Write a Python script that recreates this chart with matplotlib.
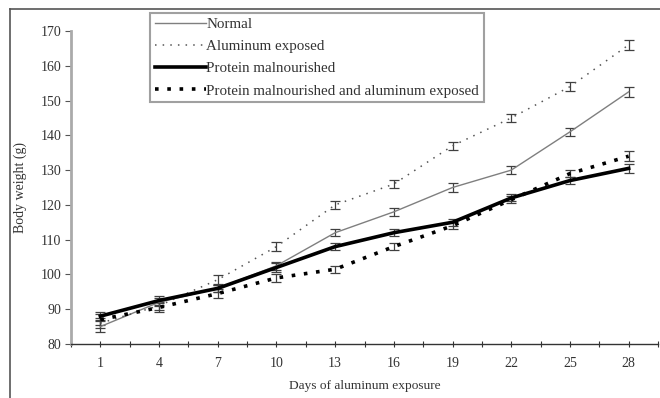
import matplotlib
matplotlib.use("Agg")
import matplotlib.pyplot as plt
from matplotlib.lines import Line2D
import numpy as np

days = [1, 4, 7, 10, 13, 16, 19, 22, 25, 28]
normal = [85, 92, 96, 102.5, 112, 118, 125, 130, 141, 152.5]
normal_err = [1.5, 1.2, 1.0, 1.2, 1.0, 1.2, 1.2, 1.2, 1.2, 1.5]
alum = [86, 91, 98.5, 108, 120, 126, 137, 145, 154, 166]
alum_err = [1.5, 1.2, 1.2, 1.2, 1.2, 1.2, 1.2, 1.2, 1.2, 1.5]
pm = [88, 92.5, 96, 102, 108, 112, 115, 122, 127, 130.5]
pm_err = [1.2, 1.2, 1.0, 1.2, 1.0, 1.0, 1.0, 1.0, 1.0, 1.2]
pmal = [87, 90.5, 94.5, 99, 101.5, 108, 114, 121.5, 129, 134]
pmal_err = [1.5, 1.2, 1.2, 1.2, 1.0, 1.0, 1.0, 1.0, 1.0, 1.5]

labels = ["Normal", "Aluminum exposed", "Protein malnourished",
          "Protein malnourished and aluminum exposed"]

plt.rcParams['font.family'] = ['Liberation Serif', 'DejaVu Serif']

fig = plt.figure(figsize=(6.6, 3.98), dpi=100)
ax = fig.add_axes([71/660, 1-344/398, 587/660, 313/398])

ecol = '#404040'
styles = [
    dict(color='#7f7f7f', lw=1.0, ls='-'),
    dict(color='#555555', lw=1.1, ls=(0, (1, 4))),
    dict(color='black', lw=2.6, ls='-'),
    dict(color='black', lw=2.6, ls=(0, (1.0, 2.4))),
]
series = [(normal, normal_err), (alum, alum_err), (pm, pm_err), (pmal, pmal_err)]
handles = []
for (vals, err), st, lab in zip(series, styles, labels):
    ax.errorbar(days, vals, yerr=err, fmt='none', ecolor=ecol, elinewidth=0.9,
                capsize=3.5, capthick=0.9, zorder=2)
    h, = ax.plot(days, vals, label=lab, zorder=3, **st)
    handles.append(h)

ax.set_xlim(-0.5, 29.5)
ax.set_ylim(80, 170)
ax.set_yticks(np.arange(80, 171, 10))
ax.set_xticks(days)
ax.set_xticks(np.arange(-0.5, 29.6, 1.5), minor=True)
ax.tick_params(axis='x', which='both', direction='inout', length=5, width=0.8,
               colors='#333333', labelsize=10, pad=7)
ax.tick_params(axis='y', which='major', direction='out', length=4, width=0.8,
               colors='#555555', labelsize=10, labelcolor='#333333', pad=3)
for s in ['top', 'right']:
    ax.spines[s].set_visible(False)
ax.spines['left'].set_color('#aaaaaa')
ax.spines['left'].set_linewidth(2.0)
ax.spines['bottom'].set_color('#333333')
ax.spines['bottom'].set_linewidth(1.0)

ax.set_xlabel("Days of aluminum exposure", fontsize=9.6, color='#333333', labelpad=7)
ax.set_ylabel("Body weight (g)", fontsize=10, color='#333333', labelpad=10)

leg = fig.legend(handles=handles, loc='upper left', bbox_to_anchor=(150/660, 1-13/398),
                 fontsize=10.8, frameon=True, fancybox=False, handlelength=3.4,
                 handletextpad=0.05, labelspacing=0.58, borderpad=0.3,
                 borderaxespad=0)
leg.get_frame().set_edgecolor('#888888')
leg.get_frame().set_linewidth(1.5)
for t in leg.get_texts():
    t.set_color('#333333')

# outer frame (partially visible)
fig.add_artist(Line2D([10/660, 1.0], [1-9/398, 1-9/398], transform=fig.transFigure,
                      color='#555555', lw=1.2))
fig.add_artist(Line2D([10/660, 10/660], [0, 1-9/398], transform=fig.transFigure,
                      color='#555555', lw=1.2))

fig.savefig("out.png", dpi=100)
